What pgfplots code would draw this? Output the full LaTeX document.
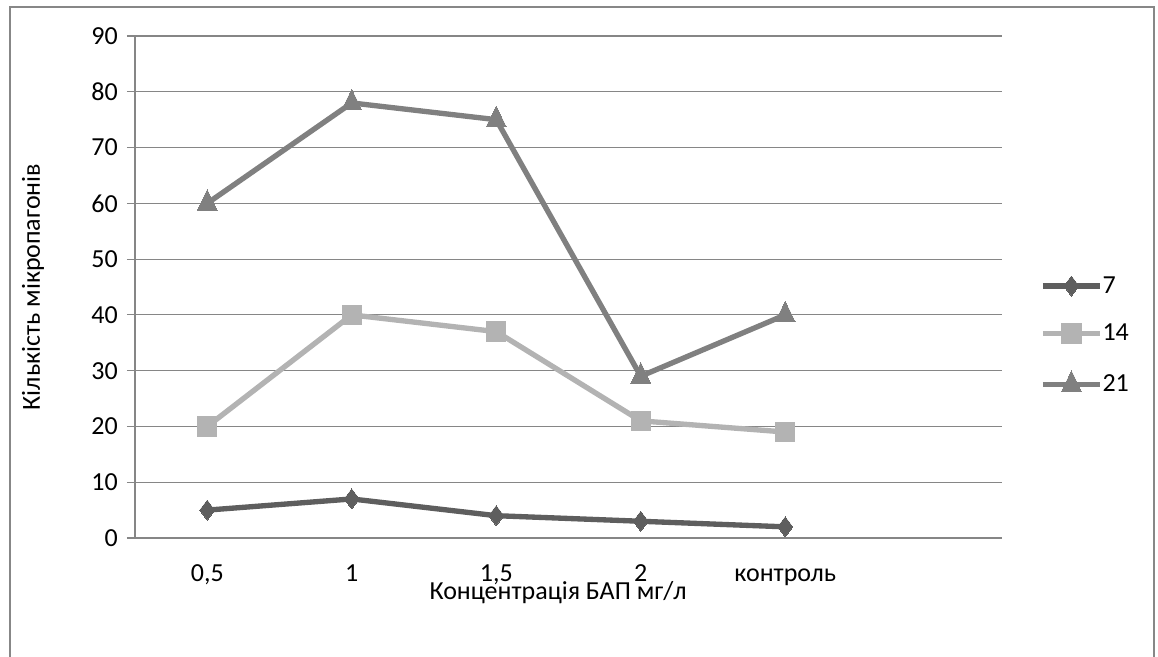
\documentclass[border=0pt]{standalone}
\usepackage{fontspec}
\setmainfont{Carlito}
\usepackage{pgfplots}
\pgfplotsset{compat=1.18}

\definecolor{framegray}{HTML}{878787}
\definecolor{gridgray}{HTML}{868686}
\definecolor{dayseven}{HTML}{5E5E5E}
\definecolor{dayfourteen}{HTML}{B3B3B3}
\definecolor{daytwentyone}{HTML}{808080}

\newcommand{\chartfont}{\fontsize{19.5}{23}\selectfont}

\begin{document}
\begin{tikzpicture}[font=\chartfont]
% canvas 868.5pt x 492.75pt, origin bottom left
\useasboundingbox (0pt,0pt) rectangle (868.5pt,492.75pt);
\draw[framegray, line width=1.1pt] (7.5pt,-20pt) rectangle (865.5pt,487.5pt);
\begin{axis}[
  at={(101.25pt,89.25pt)}, anchor=south west,
  scale only axis, width=650.25pt, height=376.5pt,
  xmin=0.5, xmax=6.5, ymin=0, ymax=90,
  xtick={1,2,3,4,5},
  xticklabels={{0,5},1,{1,5},2,контроль},
  ytick={0,10,...,90},
  axis x line*=bottom, axis y line*=left,
  axis line style={gridgray, line width=0.8pt},
  ymajorgrids, grid style={gridgray, line width=0.8pt},
  xtick style={draw=none}, major x tick style={draw=none},
  ytick style={gridgray, line width=0.8pt},
  tick align=outside, major tick length=6pt,
  /pgf/number format/assume math mode=true,
  tick label style={font=\chartfont, text=black},
  xticklabel style={anchor=base, yshift=-27pt},
  yticklabel style={anchor=east, inner sep=0pt, xshift=-6.75pt},
  xlabel={Концентрація БАП мг/л},
  ylabel={Кількість мікропагонів},
  every axis x label/.style={at={(axis description cs:0.488,0)}, anchor=base, yshift=-46.5pt, font=\chartfont},
  every axis y label/.style={at={(axis description cs:-0.1176,0.5)}, rotate=90, anchor=center, font=\chartfont},
  clip=false,
  legend style={
    at={(axis description cs:1.0438,0.4044)}, anchor=west,
    draw=none, fill=none, font=\chartfont,
    inner sep=0pt, row sep=20.75pt,
    nodes={inner sep=0pt},
    /tikz/every even column/.append style={column sep=0pt},
  },
  legend cell align=left,
  legend image code/.code={%
    \draw[mark repeat=2,mark phase=2,#1] plot coordinates {(0pt,0pt) (21.4pt,0pt) (42.75pt,0pt)};},
  every axis plot/.append style={line width=4pt, line join=round},
]
\addplot[dayseven, mark=diamond*, mark size=7.5pt, mark options={solid, line width=0pt}]
  coordinates {(1,5) (2,7) (3,4) (4,3) (5,2)};
\addlegendentry{7}
\addplot[dayfourteen, mark=square*, mark size=7.3pt, mark options={solid, line width=0pt}]
  coordinates {(1,20) (2,40) (3,37) (4,21) (5,19)};
\addlegendentry{14}
\addplot[daytwentyone, mark=triangle*, mark size=8.5pt, mark options={solid, line width=0pt, yscale=1.2}]
  coordinates {(1,60) (2,78) (3,75) (4,29) (5,40)};
\addlegendentry{21}
\end{axis}
\end{tikzpicture}
\end{document}
